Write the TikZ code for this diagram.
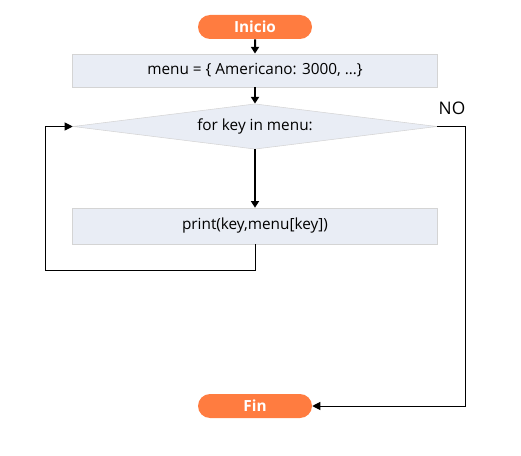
\documentclass[tikz,border=0pt]{standalone}
\usepackage{fontspec}
\setmainfont{Open Sans}
\usetikzlibrary{shapes.geometric,shapes.misc,arrows.meta}
\definecolor{termorange}{HTML}{FF7C40}
\definecolor{boxfill}{HTML}{E9EDF5}
\definecolor{boxline}{HTML}{D4D4D4}
\begin{document}
\begin{tikzpicture}
        [x=0.75pt,y=-0.75pt,
         term_style/.style={rounded rectangle,fill=termorange,text=white,font=\bfseries\fontsize{11.5}{13}\selectfont,minimum width=85.5pt,minimum height=18pt,inner sep=0pt},
         box_style/.style={rectangle,draw=boxline,fill=boxfill,font=\fontsize{11.5}{13}\selectfont,minimum width=274pt,inner sep=0pt},
         cond_style/.style={diamond,draw=boxline,fill=boxfill,font=\fontsize{11.5}{13}\selectfont,aspect=8.1,minimum width=273pt,minimum height=34pt,inner sep=0pt},
         edge_style/.style={draw=black,line width=1.5pt,-{Triangle[width=6pt,length=5pt]}},
         loop_style/.style={draw=black,line width=0.75pt,-{Triangle[width=6pt,length=6pt]}}]
            \useasboundingbox (0,0) rectangle (521,456);
            \node[term_style] (v0) at (255, 27)  {Inicio};
            \node[box_style,minimum height=25pt] (v1) at (255, 70.5)  {menu = \{ Americano: 3000, …\}};
            \node[cond_style] (v2) at (255, 126.5)  {for key in menu:};
            \node[box_style,minimum height=27pt] (v3) at (255, 226)  {print(key,menu[key])};
            \node[term_style] (v4) at (255, 406)  {Fin};
            \node[font=\fontsize{13}{15}\selectfont] (no) at (452, 108)  {NO};
            \draw[edge_style]  (v0) -- (v1);
            \draw[edge_style]  (v1) -- (v2);
            \draw[edge_style]  (v2) -- (v3);
            \draw[loop_style]  (v3.south) -- ++(0,26) -| (45,126.5) -- (v2.west);
            \draw[loop_style]  (v2.east) -| (465,406) -- (v4.east);
        \end{tikzpicture}
\end{document}
